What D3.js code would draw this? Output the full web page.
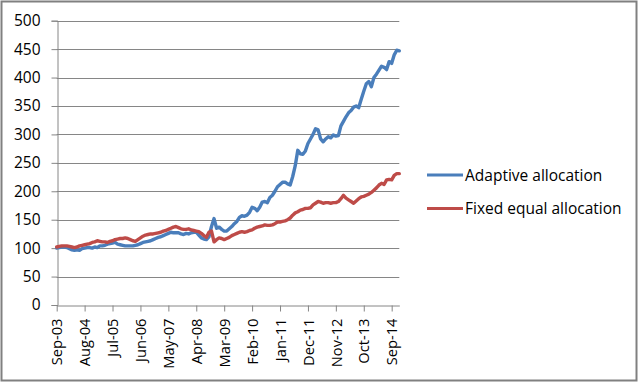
<!DOCTYPE html>
<html>
<head>
<meta charset="utf-8">
<script src="https://cdn.jsdelivr.net/npm/d3@7"></script>
<style>
  html, body { margin: 0; padding: 0; background: #fff; }
  svg { display: block; }
  text { font-family: "Open Sans", "Noto Sans", sans-serif; fill: #000; }
</style>
</head>
<body>
<svg id="chart" width="640" height="383"></svg>
<script>
// ---- data ----
const fmt = d3.timeFormat("%b-%y");
const categories = d3.timeMonth.range(new Date(2003, 8, 1), new Date(2015, 0, 1)).map(fmt);

const adaptive = [
  100,101,102,102,101,99,97,96,97,96,99,100,101,101,100,102,101,104,104,105,
  107,108,109,110,107,106,105,104,104,104,104,105,106,108,110,111,112,113,115,117,
  119,120,122,124,126,128,127,127,127,125,124,126,125,127,128,128,123,118,116,115,
  120,138,152,135,137,133,130,130,134,138,143,147,154,157,156,158,163,172,170,166,
  172,181,182,180,189,193,200,208,212,216,216,213,211,226,245,272,266,265,271,284,
  292,300,310,308,292,287,292,296,294,299,297,298,315,323,331,338,342,348,350,347,
  362,376,389,393,384,400,406,413,420,418,414,428,425,440,448,447
];

const fixedEqual = [
  102,103,104,104,104,103,102,101,102,104,105,106,107,108,110,111,113,112,111,111,
  110,112,113,115,116,117,117,118,117,115,113,112,115,118,121,123,124,125,125,126,
  127,128,130,131,133,135,137,138,136,134,133,133,134,132,131,130,129,126,122,119,
  128,130,111,115,118,117,115,117,119,122,124,126,128,129,128,129,131,132,135,137,
  138,139,141,140,140,141,143,146,146,147,148,150,153,158,162,164,167,168,170,170,
  171,176,179,182,181,179,180,180,179,180,180,182,187,193,188,185,182,179,183,187,
  190,191,193,195,198,202,206,211,214,212,220,221,220,228,231,231
];

const seriesNames = ["Adaptive allocation", "Fixed equal allocation"];
const seriesColors = ["#4A7EBB", "#BE4B48"];
const tickLabels = ["Sep-03","Aug-04","Jul-05","Jun-06","May-07","Apr-08","Mar-09",
                    "Feb-10","Jan-11","Dec-11","Nov-12","Oct-13","Sep-14"];
const yTicks = [0,50,100,150,200,250,300,350,400,450,500];

// ---- drawing ----
const svg = d3.select("#chart");
const plotLeft = 56.7, plotRight = 399.3, plotTop = 20.7, plotBottom = 305;

const x = d3.scalePoint().domain(categories).range([plotLeft, plotRight]);
const y = d3.scaleLinear().domain([0, 500]).range([plotBottom, plotTop]);

// outer border
svg.append("rect")
  .attr("x", 1.5).attr("y", 1.5).attr("width", 635).attr("height", 379)
  .attr("fill", "#fff").attr("stroke", "#808080").attr("stroke-width", 2);

// gridlines
svg.append("g").selectAll("line").data(yTicks.filter(d => d > 0)).join("line")
  .attr("x1", plotLeft).attr("x2", plotRight)
  .attr("y1", d => Math.round(y(d)) + 0.5).attr("y2", d => Math.round(y(d)) + 0.5)
  .attr("stroke", "#868686").attr("stroke-width", 1);

// y axis
const yAxis = svg.append("g")
  .attr("transform", `translate(${Math.round(plotLeft) + 0.5},0)`)
  .call(d3.axisLeft(y).tickValues(yTicks).tickSize(6).tickPadding(11).tickFormat(d3.format("d")));
yAxis.select(".domain").attr("stroke", "#868686");
yAxis.selectAll(".tick line").attr("stroke", "#868686");
yAxis.selectAll(".tick text")
  .style("font-family", "'Open Sans', sans-serif")
  .style("font-size", "15.5px").attr("fill", "#000");

// x axis
const xAxis = svg.append("g")
  .attr("transform", `translate(0,${plotBottom + 0.5})`)
  .call(d3.axisBottom(x).tickValues(tickLabels).tickSize(6).tickSizeOuter(0));
xAxis.select(".domain").attr("stroke", "#868686");
xAxis.selectAll(".tick line").attr("stroke", "#868686");
xAxis.selectAll(".tick text")
  .style("font-family", "'Open Sans', sans-serif")
  .style("font-size", "14.7px").attr("fill", "#000")
  .attr("text-anchor", "end")
  .attr("x", 0).attr("y", 0)
  .attr("dy", "0.35em")
  .attr("transform", "translate(0,13) rotate(-90)");

// lines
const line = d3.line()
  .x((d, i) => x(categories[i]))
  .y(d => y(d));

[adaptive, fixedEqual].forEach((vals, k) => {
  svg.append("path")
    .datum(vals)
    .attr("fill", "none")
    .attr("stroke", seriesColors[k])
    .attr("stroke-width", 3.4)
    .attr("stroke-linejoin", "round")
    .attr("stroke-linecap", "round")
    .attr("d", line);
});

// legend
const legendY = [175, 208.5];
const lg = svg.append("g");
seriesNames.forEach((name, k) => {
  lg.append("line")
    .attr("x1", 427).attr("x2", 463)
    .attr("y1", legendY[k]).attr("y2", legendY[k])
    .attr("stroke", seriesColors[k]).attr("stroke-width", 3);
  lg.append("text")
    .attr("x", 465).attr("y", legendY[k] + 5.5)
    .style("font-size", "15.5px")
    .text(name);
});
</script>
</body>
</html>
